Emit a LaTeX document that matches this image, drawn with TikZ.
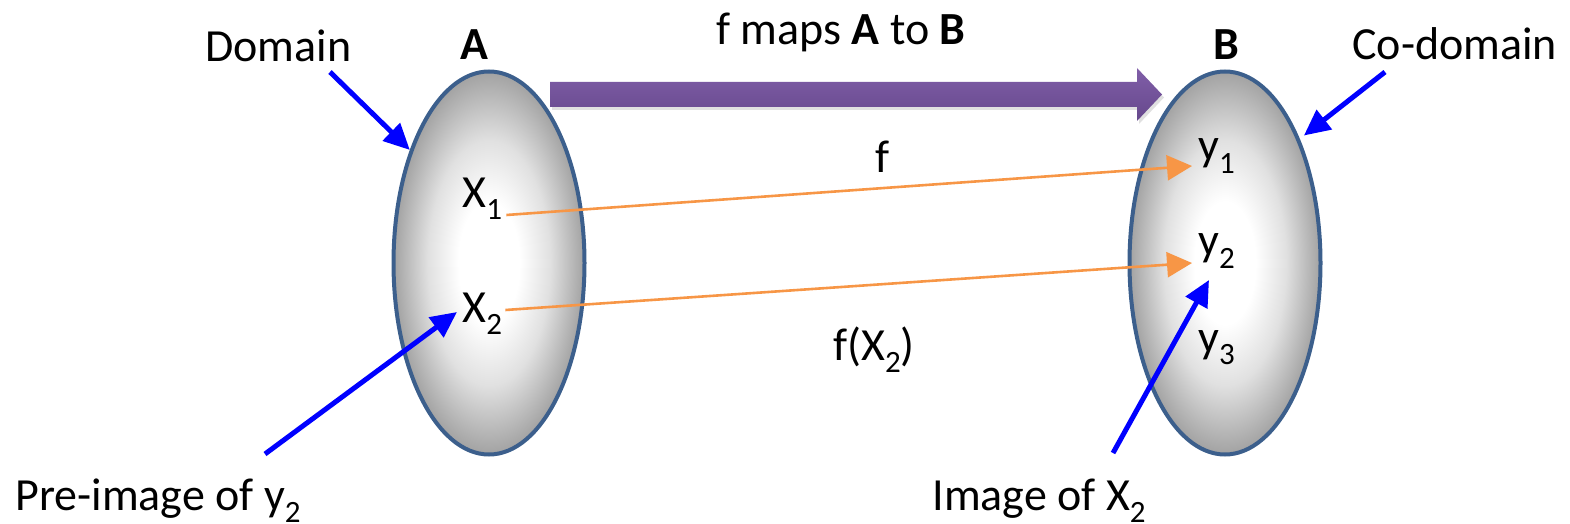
\documentclass[tikz,border=0pt]{standalone}
\usepackage{fontspec}
\setmainfont{Carlito}
\usetikzlibrary{arrows.meta, positioning, shapes.geometric}
\definecolor{setedge}{RGB}{60,95,140}
\definecolor{setgray}{RGB}{162,162,162}
\definecolor{maporange}{RGB}{247,150,70}
\definecolor{pointblue}{RGB}{0,0,255}
\definecolor{purpletop}{RGB}{128,94,168}
\definecolor{purplebot}{RGB}{102,72,140}
\pgfdeclareradialshading{setfill}{\pgfpoint{0bp}{0bp}}{color(0bp)=(white); color(8bp)=(white); color(16bp)=(white!88!black); color(25bp)=(setgray); color(50bp)=(setgray)}
\newcommand{\low}[1]{\raisebox{-0.27em}{\fontsize{15.5}{18}\selectfont #1}}

\begin{document}
\begin{tikzpicture}[
    x=0.5pt,
    y=-0.5pt,
    >=Triangle,
    every node/.style={font=\fontsize{23}{27}\selectfont, inner sep=0pt},
    setshape/.style={ellipse, draw=setedge, line width=2pt, shading=setfill, minimum width=95.5pt, minimum height=191.5pt},
    elem/.style={anchor=base west},
    fline/.style={maporange, line width=1.3pt, -{Triangle[length=12.5pt, width=12.5pt]}},
    pointer/.style={pointblue, line width=2.5pt, -{Triangle[length=13pt, width=12pt]}}
]
\useasboundingbox (0,0) rectangle (1570,524);
% Sets
\node[setshape] (setA) at (489,263) {};
\node[setshape] (setB) at (1225,263) {};
\node[anchor=base] (labA) at (474,60) {\textbf{A}};
\node[anchor=base] (labB) at (1226,60) {\textbf{B}};
% Mapping arrow
\fill[gray!60, opacity=0.4] (552,85) -- (1139,85) -- (1139,71) -- (1164,97.5) -- (1139,124) -- (1139,110) -- (552,110) -- cycle;
\shade[top color=purpletop, bottom color=purplebot] (550,82) -- (1137,82) -- (1137,68) -- (1162,94.5) -- (1137,121) -- (1137,107) -- (550,107) -- cycle;
\node[anchor=base] (fmap) at (841,45) {f maps \textbf{A} to \textbf{B}};
% Elements
\node[elem] (x1) at (462,207) {X\low{1}};
\node[elem] (x2) at (462,322) {X\low{2}};
\node[elem] (y1) at (1198,161) {y\low{1}};
\node[elem] (y2) at (1198,256) {y\low{2}};
\node[elem] (y3) at (1198,352) {y\low{3}};
\draw[fline] ([shift={(4,8)}]x1.base east) -- ([shift={(-6,5)}]y1.base west);
\draw[fline] ([shift={(3,-12)}]x2.base east) -- ([shift={(-6,7)}]y2.base west);
\node[anchor=base] (fname) at (883,173) {f};
\node[anchor=base] (fimg) at (874,360) {f(X\low{2})};
% Pointers
\node[anchor=base west] (dom) at (205,62) {Domain};
\node[anchor=base west] (cod) at (1352,60) {Co-domain};
\node[anchor=base west] (pre) at (15,510) {Pre-image of y\low{2}};
\node[anchor=base west] (img) at (932,510) {Image of X\low{2}};
\coordinate (domTail) at (330,72);
\coordinate (codTail) at (1385,72);
\coordinate (preTail) at (265,454);
\coordinate (imgTail) at (1113,453);
\draw[pointer] (domTail) -- (setA.125);
\draw[pointer] (codTail) -- ([shift={(3,-6)}]setB.58);
\draw[pointer] (preTail) -- ([shift={(-5,-10)}]x2.base west);
\draw[pointer] (imgTail) -- ([shift={(11,24)}]y2.base west);
\end{tikzpicture}
\end{document}
